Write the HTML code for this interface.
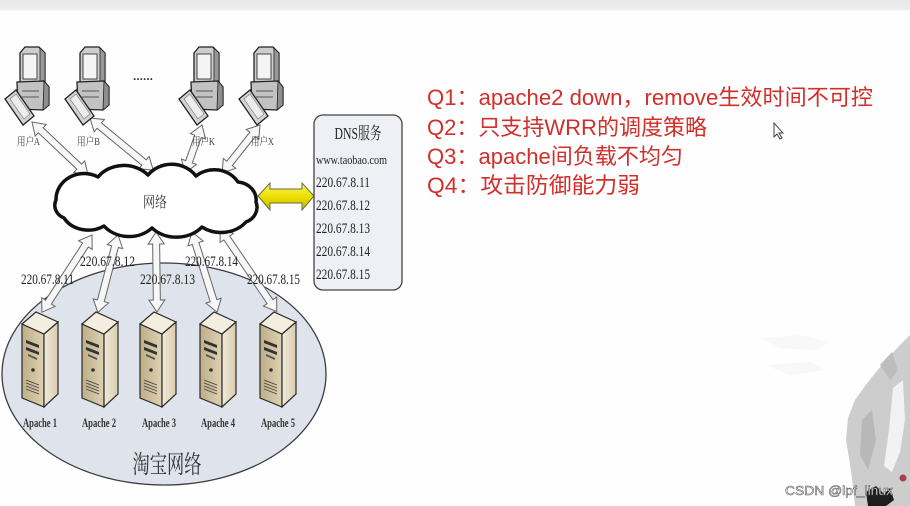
<!DOCTYPE html>
<html><head><meta charset="utf-8">
<style>
html,body{margin:0;padding:0;background:#fefefe;}
body{width:910px;height:506px;overflow:hidden;position:relative;}
svg{position:absolute;left:0;top:0;}
</style></head>
<body>
<svg width="910" height="506" viewBox="0 0 910 506" xmlns="http://www.w3.org/2000/svg">
<defs>
  <linearGradient id="topbar" x1="0" y1="0" x2="0" y2="1">
    <stop offset="0" stop-color="#e9e9e9"/><stop offset="0.8" stop-color="#ececec"/><stop offset="1" stop-color="#f8f8f8"/>
  </linearGradient>
  <linearGradient id="ylw" x1="0" y1="0" x2="0" y2="1">
    <stop offset="0" stop-color="#f7f36a"/><stop offset="0.5" stop-color="#ece000"/><stop offset="1" stop-color="#c9b800"/>
  </linearGradient>
  <linearGradient id="srvL" x1="0" y1="0" x2="1" y2="0">
    <stop offset="0" stop-color="#bfae86"/><stop offset="1" stop-color="#ddd1b4"/>
  </linearGradient>
  <linearGradient id="srvR" x1="0" y1="0" x2="1" y2="0">
    <stop offset="0" stop-color="#f1eadb"/><stop offset="1" stop-color="#d9ccad"/>
  </linearGradient>
  <g id="pc">
    <polygon points="3,6 8,0 22,0 28,6 28,37 3,37" fill="#cdcdcd" stroke="#222" stroke-width="1.3"/>
    <polygon points="22,0 28,6 28,37 23,37 23,2" fill="#999" stroke="#222" stroke-width="0.8"/>
    <rect x="6" y="7" width="14" height="25" fill="#f4f4f4" stroke="#444" stroke-width="1"/>
    <polygon points="0,35 27,34 32,40 32,58 26,63 1,62" fill="#c2c2c2" stroke="#222" stroke-width="1.3"/>
    <polygon points="27,34 32,40 32,58 26,63" fill="#8e8e8e" stroke="#222" stroke-width="0.8"/>
    <line x1="5" y1="44" x2="22" y2="44" stroke="#555" stroke-width="1"/>
    <line x1="5" y1="50" x2="22" y2="50" stroke="#555" stroke-width="1"/>
    <polygon points="-12,52 -1,43 17,69 6,78" fill="#d4d4d4" stroke="#222" stroke-width="1.3"/>
    <polygon points="-7,52 -1,47 13,67 7,72" fill="#ededed" stroke="#777" stroke-width="0.6"/>
  </g>
  <g id="srv">
    <polygon points="0,14 22,24 22,97 0,88" fill="url(#srvL)" stroke="#2a2a2a" stroke-width="1.2"/>
    <polygon points="22,24 36,12 36,84 22,97" fill="url(#srvR)" stroke="#2a2a2a" stroke-width="1.2"/>
    <polygon points="0,14 14,2 36,12 22,24" fill="#f4eee0" stroke="#2a2a2a" stroke-width="1.2"/>
    <polygon points="4,30 17,35 17,38 4,33" fill="#333"/>
    <polygon points="4,37 17,42 17,45 4,40" fill="#333"/>
    <polygon points="6,44 15,48 15,50 6,46" fill="#555"/>
    <circle cx="11" cy="60" r="1.8" fill="#333"/>
    <line x1="4" y1="70" x2="17" y2="75" stroke="#444" stroke-width="0.9"/>
    <line x1="4" y1="73" x2="17" y2="78" stroke="#444" stroke-width="0.9"/>
    <line x1="4" y1="76" x2="17" y2="81" stroke="#444" stroke-width="0.9"/>
    <line x1="4" y1="79" x2="17" y2="84" stroke="#444" stroke-width="0.9"/>
  </g>
</defs>

<!-- top bar -->
<rect x="0" y="0" width="910" height="11" fill="url(#topbar)"/>

<!-- ink painting bottom right -->
<g>
  <polygon points="760,338 800,335 830,342 815,350 780,348" fill="#f8f8f8"/>
  <polygon points="765,365 810,362 825,370 790,375" fill="#f8f8f8"/>
  <polygon points="910,335 900,345 888,358 876,372 865,386 855,400 848,418 846,440 849,458 852,478 855,506 910,506" fill="#cdcdcd"/>
  <polygon points="880,365 892,352 898,370 890,380" fill="#bdbdbd"/>
  <polygon points="893,388 903,380 905,420 900,452 892,472 884,466 889,430" fill="#f2f2f2"/>
  <polygon points="862,420 872,410 876,440 868,470 860,455" fill="#b8b8b8"/>
  <polygon points="866,492 876,486 884,494 890,488 894,500 886,506 868,506" fill="#1e1e1e"/>
  <circle cx="903" cy="478" r="3.5" fill="#a8404e"/>
</g>

<!-- user arrows -->
<g fill="#f7f7f7" stroke="#666" stroke-width="1">
  <polygon transform="translate(32,122) rotate(43.4)" points="0,0 12,-8 12,-3.5 65,-3.5 65,-8 77,0 65,8 65,3.5 12,3.5 12,8"/>
  <polygon transform="translate(90,118) rotate(39.5)" points="0,0 12,-8 12,-3.5 70,-3.5 70,-8 82,0 70,8 70,3.5 12,3.5 12,8"/>
  <polygon transform="translate(202,125) rotate(109.5)" points="0,0 12,-8 12,-3.5 39,-3.5 39,-8 51,0 39,8 39,3.5 12,3.5 12,8"/>
  <polygon transform="translate(260,125) rotate(128.4)" points="0,0 12,-8 12,-3.5 49,-3.5 49,-8 61,0 49,8 49,3.5 12,3.5 12,8"/>
</g>

<!-- computers -->
<use href="#pc" x="17" y="47"/>
<use href="#pc" x="77" y="47"/>
<use href="#pc" x="191" y="47"/>
<use href="#pc" x="251" y="47"/>
<text x="143" y="80" font-family="Liberation Sans, sans-serif" font-size="12" font-weight="bold" fill="#333" text-anchor="middle">......</text>

<g font-family="Liberation Serif, 'Noto Serif CJK SC', serif" font-size="11" fill="#444">
  <text x="17" y="145" textLength="23" lengthAdjust="spacingAndGlyphs">用户A</text>
  <text x="77" y="145" textLength="23" lengthAdjust="spacingAndGlyphs">用户B</text>
  <text x="192" y="145" textLength="23" lengthAdjust="spacingAndGlyphs">用户K</text>
  <text x="251" y="145" textLength="23" lengthAdjust="spacingAndGlyphs">用户X</text>
</g>

<!-- ellipse -->
<ellipse cx="164" cy="374" rx="162" ry="111" fill="#dfe3ec" stroke="#3c3c3c" stroke-width="1.3"/>

<!-- server arrows -->
<g fill="#f7f7f7" stroke="#666" stroke-width="1">
  <polygon transform="translate(92,235) rotate(123)" points="0,0 12,-8 12,-3.5 80,-3.5 80,-8 92,0 80,8 80,3.5 12,3.5 12,8"/>
  <polygon transform="translate(118,235) rotate(104.6)" points="0,0 12,-8 12,-3.5 68,-3.5 68,-8 80,0 68,8 68,3.5 12,3.5 12,8"/>
  <polygon transform="translate(156,232) rotate(89.3)" points="0,0 12,-8 12,-3.5 68,-3.5 68,-8 80,0 68,8 68,3.5 12,3.5 12,8"/>
  <polygon transform="translate(192,232) rotate(72.6)" points="0,0 12,-8 12,-3.5 72,-3.5 72,-8 84,0 72,8 72,3.5 12,3.5 12,8"/>
  <polygon transform="translate(220,228) rotate(55.8)" points="0,0 12,-8 12,-3.5 89,-3.5 89,-8 101,0 89,8 89,3.5 12,3.5 12,8"/>
</g>

<!-- cloud -->
<path d="M 56,200 A 28 26 0 0 1 98,177 A 32 28 0 0 1 148,175 A 30 28 0 0 1 196,176 A 28 26 0 0 1 238,182 A 20 18 0 0 1 256,202 A 18 16 0 0 1 246,222 A 32 28 0 0 1 202,227 A 34 30 0 0 1 152,228 A 32 28 0 0 1 104,226 A 28 24 0 0 1 64,218 A 16 14 0 0 1 56,200 Z" fill="#ffffff" stroke="#111" stroke-width="3.5" stroke-linejoin="round"/>
<text x="155" y="207" font-family="Liberation Serif, 'Noto Serif CJK SC', serif" font-size="15" fill="#333" text-anchor="middle" textLength="24" lengthAdjust="spacingAndGlyphs">网络</text>

<!-- IP labels -->
<g font-family="Liberation Serif, serif" font-size="15" fill="#222">
  <text x="21" y="284" textLength="53" lengthAdjust="spacingAndGlyphs">220.67.8.11</text>
  <text x="80" y="266" textLength="55" lengthAdjust="spacingAndGlyphs">220.67.8.12</text>
  <text x="140" y="284" textLength="55" lengthAdjust="spacingAndGlyphs">220.67.8.13</text>
  <text x="185" y="266" textLength="53" lengthAdjust="spacingAndGlyphs">220.67.8.14</text>
  <text x="247" y="284" textLength="53" lengthAdjust="spacingAndGlyphs">220.67.8.15</text>
</g>

<!-- servers -->
<use href="#srv" x="22" y="310"/>
<use href="#srv" x="82" y="310"/>
<use href="#srv" x="140" y="310"/>
<use href="#srv" x="200" y="310"/>
<use href="#srv" x="260" y="310"/>
<g font-family="Liberation Serif, serif" font-size="13" fill="#333" font-weight="bold" text-anchor="middle">
  <text x="40" y="427" textLength="34" lengthAdjust="spacingAndGlyphs">Apache 1</text>
  <text x="99" y="427" textLength="34" lengthAdjust="spacingAndGlyphs">Apache 2</text>
  <text x="159" y="427" textLength="34" lengthAdjust="spacingAndGlyphs">Apache 3</text>
  <text x="218" y="427" textLength="34" lengthAdjust="spacingAndGlyphs">Apache 4</text>
  <text x="278" y="427" textLength="34" lengthAdjust="spacingAndGlyphs">Apache 5</text>
</g>
<text x="167" y="473" font-family="Liberation Serif, 'Noto Serif CJK SC', serif" font-size="25" fill="#333" text-anchor="middle" textLength="69" lengthAdjust="spacingAndGlyphs">淘宝网络</text>

<!-- yellow arrow -->
<polygon points="258,196 270,183 270,189 302,189 302,183 314,196 302,210 302,203 270,203 270,210" fill="url(#ylw)" stroke="#6b6b3a" stroke-width="1"/>

<!-- DNS box -->
<rect x="314" y="115" width="88" height="175" rx="9" ry="9" fill="#eef0f5" stroke="#444" stroke-width="1.3"/>
<g font-family="Liberation Serif, 'Noto Serif CJK SC', serif" fill="#222">
  <text x="358" y="139" font-size="17" text-anchor="middle" textLength="47" lengthAdjust="spacingAndGlyphs">DNS服务</text>
  <text x="316" y="164" font-size="13" textLength="71" lengthAdjust="spacingAndGlyphs">www.taobao.com</text>
  <text x="316" y="187" font-size="15" textLength="54" lengthAdjust="spacingAndGlyphs">220.67.8.11</text>
  <text x="316" y="210" font-size="15" textLength="54" lengthAdjust="spacingAndGlyphs">220.67.8.12</text>
  <text x="316" y="233" font-size="15" textLength="54" lengthAdjust="spacingAndGlyphs">220.67.8.13</text>
  <text x="316" y="256" font-size="15" textLength="54" lengthAdjust="spacingAndGlyphs">220.67.8.14</text>
  <text x="316" y="279" font-size="15" textLength="54" lengthAdjust="spacingAndGlyphs">220.67.8.15</text>
</g>

<!-- Questions -->
<g font-family="Liberation Sans, 'Noto Sans CJK SC', sans-serif" font-size="22" fill="#d22f2a">
  <text x="427" y="105" textLength="446" lengthAdjust="spacingAndGlyphs">Q1：apache2 down，remove生效时间不可控</text>
  <text x="427" y="135" textLength="280" lengthAdjust="spacingAndGlyphs">Q2：只支持WRR的调度策略</text>
  <text x="427" y="164" textLength="256" lengthAdjust="spacingAndGlyphs">Q3：apache间负载不均匀</text>
  <text x="427" y="193" textLength="213" lengthAdjust="spacingAndGlyphs">Q4：攻击防御能力弱</text>
</g>

<!-- mouse cursor -->
<polygon points="774,123 774,137 777,134 780,139 782,138 779,133 783,133" fill="#fff" stroke="#333" stroke-width="0.9"/>

<!-- watermark -->
<text x="785" y="495" font-family="Liberation Sans, sans-serif" font-size="13" fill="#f0f0f0" stroke="#555" stroke-width="0.5" textLength="108" lengthAdjust="spacingAndGlyphs">CSDN @lpf_linux</text>
</svg>
</body></html>
